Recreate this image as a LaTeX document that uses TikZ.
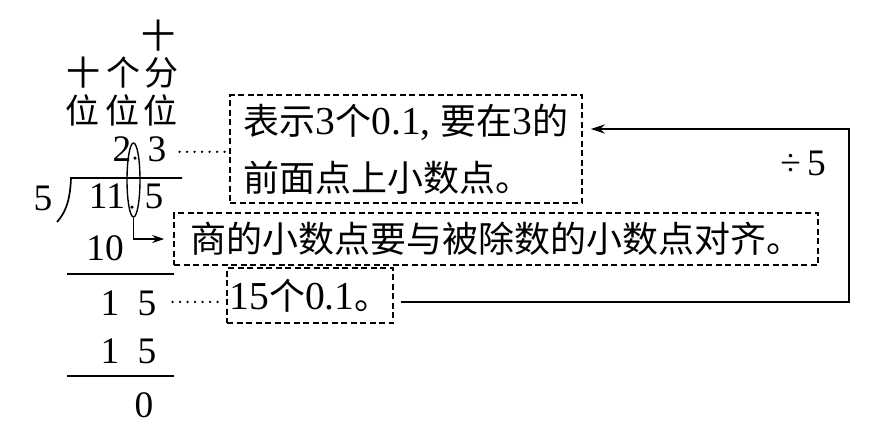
\documentclass[tikz,border=0pt]{standalone}
\usepackage{fontspec}
\setmainfont{Liberation Serif}[Scale=1.1]
\newfontfamily\cjk{Noto Sans CJK SC}
\usetikzlibrary{arrows.meta,shapes.geometric}
\begin{document}
\begin{tikzpicture}[x=1pt,y=-1pt,
  num/.style={font=\fontsize{34}{40}\selectfont, inner sep=0pt, anchor=base},
  lab/.style={font=\cjk\fontsize{34}{38}\selectfont, inner sep=0pt},
  dbox/.style={draw, line width=1.5pt, dash pattern=on 6pt off 3.5pt, inner sep=0pt,
               font=\fontsize{36}{57}\selectfont, align=left},
  dotline/.style={line width=2.6pt, dash pattern=on 0pt off 7.5pt, line cap=round},
  rulel/.style={line width=1.7pt},
  conn/.style={line width=1.6pt},
  pt/.style={circle, fill, inner sep=0pt, minimum size=3.5pt}
]
\useasboundingbox (0,0) rectangle (875,439);

% place labels
\node[lab] (l0) at (158,36) {十};
\node[lab] (l1) at (83,73) {十};
\node[lab] (l2) at (123,73) {个};
\node[lab] (l3) at (161,73) {分};
\node[lab] (l4) at (82,110) {位};
\node[lab] (l5) at (122,110) {位};
\node[lab] (l6) at (160,110) {位};

% quotient
\node[num] (q2) at (122,161) {2};
\node[num] (q3) at (157,161) {3};
\node[pt] (qdot) at (135,158) {};

% divisor and dividend
\node[num] (dv) at (43,210) {5};
\node[num] (d11) at (107,208) {11};
\node[pt] (ddot) at (132,207) {};
\node[num] (d5) at (154,208) {5};
\draw[rulel] (57,222) .. controls (64,214) and (70,204) .. (71,178) -- (182,178);

% steps
\node[num] (s10) at (105,260) {10};
\draw[rulel] (67,274) -- (174,274);
\node[num] (r1a) at (110,315) {1};
\node[num] (r1b) at (147,315) {5};
\node[num] (r2a) at (110,363) {1};
\node[num] (r2b) at (147,363) {5};
\draw[rulel] (67,376) -- (174,376);
\node[num] (r0) at (144,417) {0};

% ellipse
\node[ellipse, draw, line width=1.4pt, minimum width=13pt, minimum height=74pt, inner sep=0pt] (ell) at (133.5,180) {};

% boxes
\node[dbox, minimum width=352pt, minimum height=108pt] (b1) at (406,149)
  {{\cjk 表示}3{\cjk 个}0.1, {\cjk 要在}3{\cjk 的}\\{\cjk 前面点上小数点。}};
\node[dbox, minimum width=644pt, minimum height=52pt] (b2) at (496,239)
  {\cjk 商的小数点要与被除数的小数点对齐。};
\node[dbox, minimum width=166pt, minimum height=55pt] (b3) at (310,295.5)
  {15{\cjk 个}0.1{\cjk 。}};

% connectors
\draw[dotline, shorten <=13pt, shorten >=4pt] ([yshift=-3pt]q3.east) -- ([yshift=-3pt]q3.east -| b1.west);
\draw[dotline, shorten <=16pt, shorten >=5pt] ([yshift=1pt]r1b.east) -- ([yshift=1pt]r1b.east -| b3.west);
\draw[conn, -{Stealth[length=12pt,width=8pt]}, shorten >=9pt] (ell.south) |- (b2.west);

\coordinate (t1) at (849,129);
\coordinate (t2) at (849,302);
\draw[conn, -{Stealth[length=14pt,width=9pt]}, shorten <=7pt, shorten >=8pt]
  (b3.east |- t2) -- (t2) -- (t1) -- (b1.east |- t1);
\node[num, anchor=center] (div5) at (803,163) {÷\,5};
\end{tikzpicture}
\end{document}
